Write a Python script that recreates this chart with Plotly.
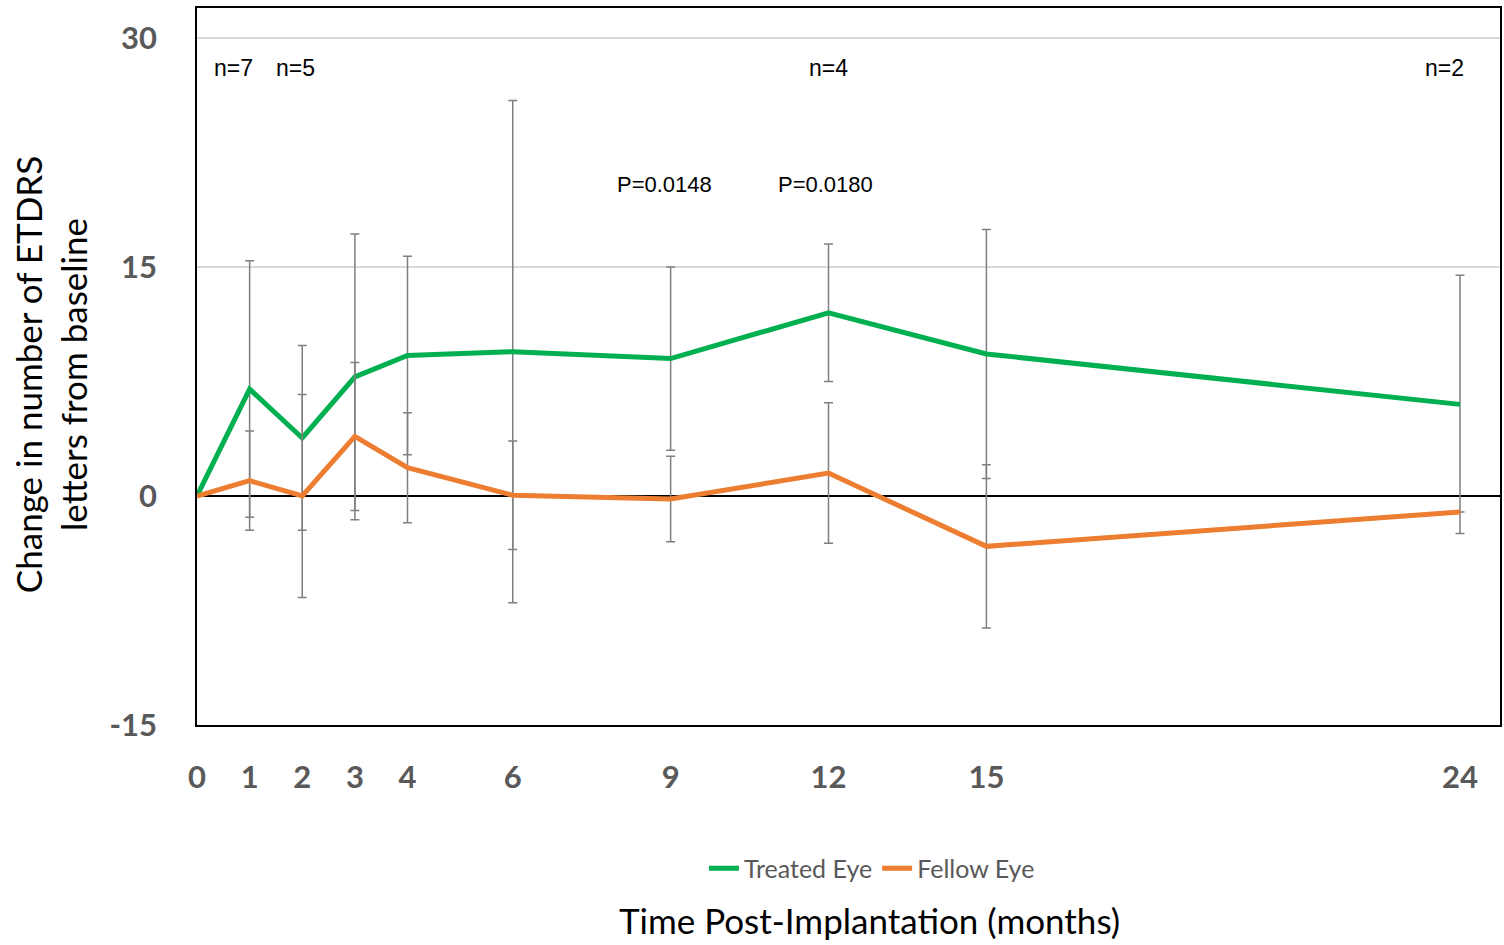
import plotly.graph_objects as go

months = [0, 1, 2, 3, 4, 6, 9, 12, 15, 24]
treated_mean = [0, 7.0, 3.8, 7.8, 9.2, 9.45, 9.0, 12.0, 9.3, 6.0]
treated_sd = [None, 8.4, 6.05, 9.35, 6.5, 16.45, 6.0, 4.5, 8.15, 8.45]
fellow_mean = [0, 1.0, 0.0, 3.9, 1.85, 0.05, -0.2, 1.5, -3.3, -1.05]
fellow_sd = [None, 3.25, 6.65, 4.85, 3.6, 3.55, 2.8, 4.6, 5.35, None]

x_ticks = [0, 1, 2, 3, 4, 6, 9, 12, 15, 24]
y_ticks = [-15, 0, 15, 30]

n_labels = ["n=7", "n=5", "n=4", "n=2"]
n_x = [0.7, 1.87, 12.0, 23.7]
n_y = 28.0
p_labels = ["P=0.0148", "P=0.0180"]
p_x = [8.88, 11.94]
p_y = 20.4

GREEN = "#00B050"
ORANGE = "#ED7D31"
ERR = "#7f7f7f"

fig = go.Figure()
fig.add_trace(go.Scatter(
    x=months, y=treated_mean, mode="lines", name="Treated Eye",
    line=dict(color=GREEN, width=5),
    error_y=dict(type="data", array=treated_sd, symmetric=True,
                 color=ERR, thickness=1.5, width=4.5),
))
fig.add_trace(go.Scatter(
    x=months, y=fellow_mean, mode="lines", name="Fellow Eye",
    line=dict(color=ORANGE, width=5),
    error_y=dict(type="data", array=fellow_sd, symmetric=True,
                 color=ERR, thickness=1.5, width=4.5),
))

annotations = []
for t, xv in zip(n_labels, n_x):
    annotations.append(dict(x=xv, y=n_y, xref="x", yref="y", text=t, showarrow=False,
                            font=dict(family="Liberation Sans", size=23, color="#000000")))
for t, xv in zip(p_labels, p_x):
    annotations.append(dict(x=xv, y=p_y, xref="x", yref="y", text=t, showarrow=False,
                            font=dict(family="Liberation Sans", size=22, color="#000000")))
annotations.append(dict(x=-0.112, y=0.488, xref="paper", yref="paper",
                        xanchor="center", yanchor="middle",
                        text="Change in number of ETDRS<br>letters from baseline",
                        textangle=-90, showarrow=False,
                        font=dict(family="Lato", size=35, color="#000000")))
annotations.append(dict(x=0.5165, y=-0.272, xref="paper", yref="paper",
                        xanchor="center", yanchor="middle",
                        text="Time Post-Implantation (months)", showarrow=False,
                        font=dict(family="Lato", size=35, color="#000000")))

fig.update_layout(
    width=1504, height=945,
    margin=dict(l=197, r=2, t=8, b=220),
    paper_bgcolor="white", plot_bgcolor="white",
    showlegend=True,
    legend=dict(orientation="h", x=0.518, y=-0.2, xanchor="center", yanchor="middle",
                font=dict(family="Lato", size=25, color="#595959"),
                itemwidth=30, tracegroupgap=0),
    annotations=annotations,
    xaxis=dict(range=[0, 24.76], tickmode="array", tickvals=x_ticks,
               ticktext=[f"<b>{v}</b>" for v in x_ticks],
               showgrid=False, zeroline=False, showline=True, linecolor="#000000",
               linewidth=1.5, mirror=True, ticks="", ticklabelstandoff=24,
               tickfont=dict(family="Lato", size=31, color="#595959")),
    yaxis=dict(range=[-15, 31.96], tickmode="array", tickvals=y_ticks,
               ticktext=[f"<b>{v}</b>" for v in y_ticks],
               showgrid=True, gridcolor="#d9d9d9", gridwidth=1.5,
               zeroline=True, zerolinecolor="#000000", zerolinewidth=1.5,
               showline=True, linecolor="#000000", linewidth=1.5, mirror=True,
               ticks="", ticklabelstandoff=32,
               tickfont=dict(family="Lato", size=31, color="#595959")),
)

fig.write_html("out.html", config={"displayModeBar": False},
               post_script="document.body.style.margin='0';document.body.style.padding='0';")
